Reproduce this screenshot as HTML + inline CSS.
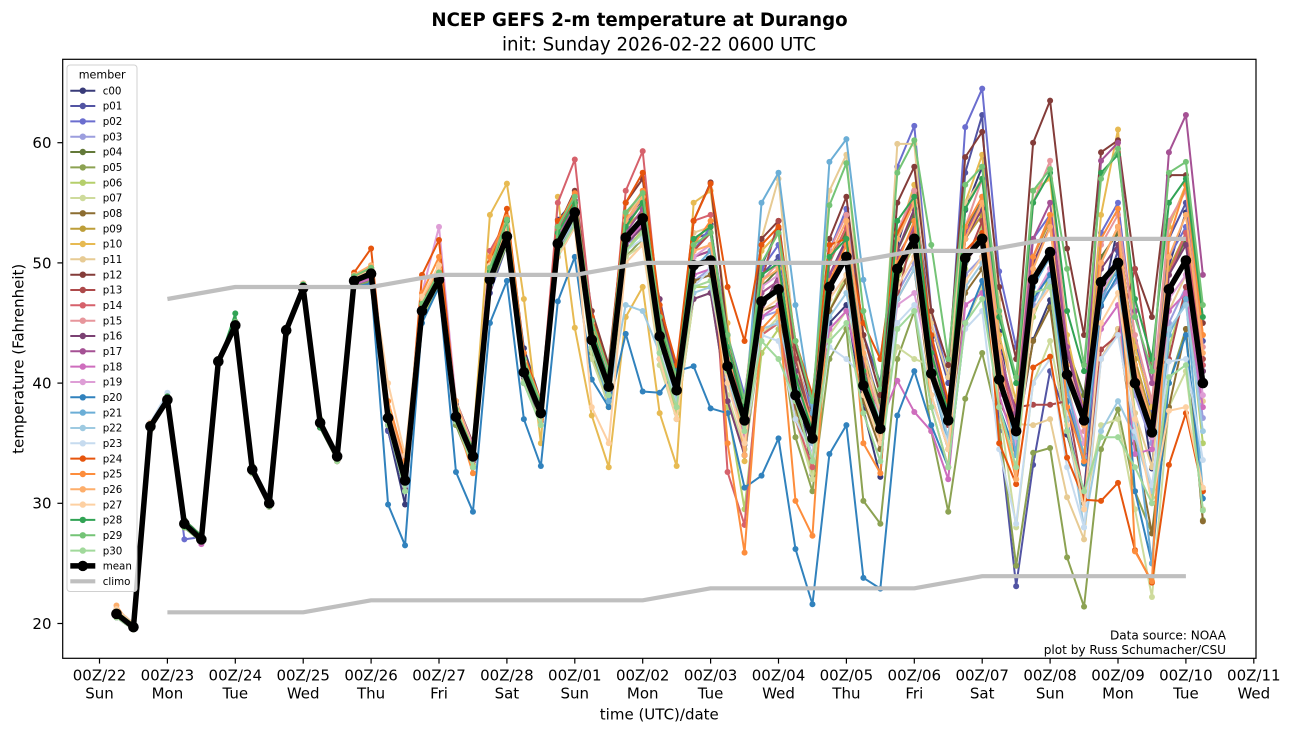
<!DOCTYPE html>
<html>
<head>
<meta charset="utf-8">
<style>
html,body{margin:0;padding:0;background:#fff;}
svg{display:block;font-family:"DejaVu Sans","Liberation Sans",sans-serif;}
.tk{font-size:15px;fill:#000;}
.lg text{font-size:10.3px;fill:#000;}
.lg line{stroke-width:2;}
.m polyline{fill:none;stroke-width:2;stroke-linejoin:round;vector-effect:non-scaling-stroke;}
</style>
</head>
<body>
<svg xmlns="http://www.w3.org/2000/svg" width="1290" height="733" viewBox="0 0 1290 733">
<defs>
<clipPath id="clip"><rect x="62.7" y="59.3" width="1193.3" height="599"/></clipPath>
<marker id="k0" markerUnits="userSpaceOnUse" markerWidth="1" markerHeight="1" overflow="visible"><ellipse rx="0.177" ry="0.25" fill="#393b79"/></marker>
<marker id="k1" markerUnits="userSpaceOnUse" markerWidth="1" markerHeight="1" overflow="visible"><ellipse rx="0.177" ry="0.25" fill="#5254a3"/></marker>
<marker id="k2" markerUnits="userSpaceOnUse" markerWidth="1" markerHeight="1" overflow="visible"><ellipse rx="0.177" ry="0.25" fill="#6b6ecf"/></marker>
<marker id="k3" markerUnits="userSpaceOnUse" markerWidth="1" markerHeight="1" overflow="visible"><ellipse rx="0.177" ry="0.25" fill="#9c9ede"/></marker>
<marker id="k4" markerUnits="userSpaceOnUse" markerWidth="1" markerHeight="1" overflow="visible"><ellipse rx="0.177" ry="0.25" fill="#637939"/></marker>
<marker id="k5" markerUnits="userSpaceOnUse" markerWidth="1" markerHeight="1" overflow="visible"><ellipse rx="0.177" ry="0.25" fill="#8ca252"/></marker>
<marker id="k6" markerUnits="userSpaceOnUse" markerWidth="1" markerHeight="1" overflow="visible"><ellipse rx="0.177" ry="0.25" fill="#b5cf6b"/></marker>
<marker id="k7" markerUnits="userSpaceOnUse" markerWidth="1" markerHeight="1" overflow="visible"><ellipse rx="0.177" ry="0.25" fill="#cedb9c"/></marker>
<marker id="k8" markerUnits="userSpaceOnUse" markerWidth="1" markerHeight="1" overflow="visible"><ellipse rx="0.177" ry="0.25" fill="#8c6d31"/></marker>
<marker id="k9" markerUnits="userSpaceOnUse" markerWidth="1" markerHeight="1" overflow="visible"><ellipse rx="0.177" ry="0.25" fill="#bd9e39"/></marker>
<marker id="k10" markerUnits="userSpaceOnUse" markerWidth="1" markerHeight="1" overflow="visible"><ellipse rx="0.177" ry="0.25" fill="#e7ba52"/></marker>
<marker id="k11" markerUnits="userSpaceOnUse" markerWidth="1" markerHeight="1" overflow="visible"><ellipse rx="0.177" ry="0.25" fill="#e7cb94"/></marker>
<marker id="k12" markerUnits="userSpaceOnUse" markerWidth="1" markerHeight="1" overflow="visible"><ellipse rx="0.177" ry="0.25" fill="#843c39"/></marker>
<marker id="k13" markerUnits="userSpaceOnUse" markerWidth="1" markerHeight="1" overflow="visible"><ellipse rx="0.177" ry="0.25" fill="#ad494a"/></marker>
<marker id="k14" markerUnits="userSpaceOnUse" markerWidth="1" markerHeight="1" overflow="visible"><ellipse rx="0.177" ry="0.25" fill="#d6616b"/></marker>
<marker id="k15" markerUnits="userSpaceOnUse" markerWidth="1" markerHeight="1" overflow="visible"><ellipse rx="0.177" ry="0.25" fill="#e7969c"/></marker>
<marker id="k16" markerUnits="userSpaceOnUse" markerWidth="1" markerHeight="1" overflow="visible"><ellipse rx="0.177" ry="0.25" fill="#7b4173"/></marker>
<marker id="k17" markerUnits="userSpaceOnUse" markerWidth="1" markerHeight="1" overflow="visible"><ellipse rx="0.177" ry="0.25" fill="#a55194"/></marker>
<marker id="k18" markerUnits="userSpaceOnUse" markerWidth="1" markerHeight="1" overflow="visible"><ellipse rx="0.177" ry="0.25" fill="#ce6dbd"/></marker>
<marker id="k19" markerUnits="userSpaceOnUse" markerWidth="1" markerHeight="1" overflow="visible"><ellipse rx="0.177" ry="0.25" fill="#de9ed6"/></marker>
<marker id="k20" markerUnits="userSpaceOnUse" markerWidth="1" markerHeight="1" overflow="visible"><ellipse rx="0.177" ry="0.25" fill="#3182bd"/></marker>
<marker id="k21" markerUnits="userSpaceOnUse" markerWidth="1" markerHeight="1" overflow="visible"><ellipse rx="0.177" ry="0.25" fill="#6baed6"/></marker>
<marker id="k22" markerUnits="userSpaceOnUse" markerWidth="1" markerHeight="1" overflow="visible"><ellipse rx="0.177" ry="0.25" fill="#9ecae1"/></marker>
<marker id="k23" markerUnits="userSpaceOnUse" markerWidth="1" markerHeight="1" overflow="visible"><ellipse rx="0.177" ry="0.25" fill="#c6dbef"/></marker>
<marker id="k24" markerUnits="userSpaceOnUse" markerWidth="1" markerHeight="1" overflow="visible"><ellipse rx="0.177" ry="0.25" fill="#e6550d"/></marker>
<marker id="k25" markerUnits="userSpaceOnUse" markerWidth="1" markerHeight="1" overflow="visible"><ellipse rx="0.177" ry="0.25" fill="#fd8d3c"/></marker>
<marker id="k26" markerUnits="userSpaceOnUse" markerWidth="1" markerHeight="1" overflow="visible"><ellipse rx="0.177" ry="0.25" fill="#fdae6b"/></marker>
<marker id="k27" markerUnits="userSpaceOnUse" markerWidth="1" markerHeight="1" overflow="visible"><ellipse rx="0.177" ry="0.25" fill="#fdd0a2"/></marker>
<marker id="k28" markerUnits="userSpaceOnUse" markerWidth="1" markerHeight="1" overflow="visible"><ellipse rx="0.177" ry="0.25" fill="#31a354"/></marker>
<marker id="k29" markerUnits="userSpaceOnUse" markerWidth="1" markerHeight="1" overflow="visible"><ellipse rx="0.177" ry="0.25" fill="#74c476"/></marker>
<marker id="k30" markerUnits="userSpaceOnUse" markerWidth="1" markerHeight="1" overflow="visible"><ellipse rx="0.177" ry="0.25" fill="#a1d99b"/></marker>
<marker id="kmean" markerUnits="userSpaceOnUse" markerWidth="1" markerHeight="1" overflow="visible"><ellipse rx="0.312" ry="0.441" fill="#000"/></marker>
</defs>
<rect x="0" y="0" width="1290" height="733" fill="#fff"/>

<text x="639.5" y="26" text-anchor="middle" font-size="18.2" font-weight="bold">NCEP GEFS 2-m temperature at Durango</text>
<text x="659" y="50.7" text-anchor="middle" font-size="18.2">init: Sunday 2026-02-22 0600 UTC</text>

<g clip-path="url(#clip)">
<g class="m" transform="matrix(16.975,0,0,-12.02,99.5,863.9)">
<polyline stroke="#393b79" marker-start="url(#k0)" marker-mid="url(#k0)" marker-end="url(#k0)" points="1,20.6 2,19.6 3,36.2 4,38.9 5,28.6 6,27.3 7,41.6 8,44.5 9,32.6 10,30.3 11,44.1 12,48.2 13,36.3 14,33.6 15,49.0 16,49.4 17,36.1 18,29.9 19,47.0 20,49.1 21,38.2 22,34.4 23,49.6 24,53.7 25,42.9 26,38.5 27,53.6 28,55.2 29,44.6 30,38.7 31,53.1 32,55.2 33,45.9 34,40.4 35,51.8 36,53.2 37,42.4 38,34.9 39,49.8 40,52.8 41,41.0 42,32.4 43,45.0 44,46.5 45,37.8 46,32.2 47,51.5 48,56.0 49,43.8 50,37.9 51,54.4 52,58.0 53,44.3 54,35.0 55,43.6 56,46.9 57,35.7 58,30.9 59,46.4 60,53.0 61,42.0 62,32.9 63,49.8 64,54.2 65,41.0"/>
<polyline stroke="#5254a3" marker-start="url(#k1)" marker-mid="url(#k1)" marker-end="url(#k1)" points="1,21.0 2,19.9 3,36.6 4,38.3 5,28.0 6,26.8 7,42.0 8,45.1 9,33.1 10,29.8 11,44.6 12,47.6 13,37.0 14,34.2 15,48.0 16,48.7 17,36.0 18,31.0 19,45.5 20,48.0 21,36.5 22,33.0 23,47.5 24,51.5 25,40.0 26,36.8 27,50.5 28,53.5 29,44.5 30,40.5 31,53.0 32,55.0 33,45.0 34,41.0 35,52.0 36,52.5 37,42.5 38,37.5 39,49.0 40,50.5 41,40.0 42,35.0 43,50.0 44,53.0 45,44.0 46,40.0 47,52.5 48,55.5 49,45.0 50,40.0 51,57.5 52,62.3 53,36.0 54,23.1 55,33.2 56,41.0 57,37.0 58,30.0 59,47.0 60,51.0 61,41.0 62,37.0 63,52.0 64,55.0 65,43.5"/>
<polyline stroke="#6b6ecf" marker-start="url(#k2)" marker-mid="url(#k2)" marker-end="url(#k2)" points="1,20.5 2,19.5 3,36.1 4,38.7 5,27.0 6,27.2 7,41.9 8,44.6 9,32.5 10,29.7 11,44.2 12,48.0 13,36.5 14,33.5 15,48.8 16,49.5 17,36.5 18,31.5 19,46.5 20,48.3 21,37.5 22,34.5 23,49.0 24,52.5 25,41.5 26,38.5 27,52.0 28,55.0 29,45.0 30,40.0 31,54.0 32,55.5 33,44.5 34,40.5 35,51.0 36,53.0 37,44.0 38,39.0 39,49.5 40,51.5 41,42.0 42,37.5 43,51.0 44,54.5 45,43.0 46,38.0 47,58.0 48,61.4 49,46.0 50,40.5 51,61.3 52,64.5 53,49.3 54,43.0 55,52.0 56,54.0 57,42.5 58,38.0 59,52.5 60,55.0 61,43.5 62,37.5 63,50.5 64,53.0 65,41.5"/>
<polyline stroke="#9c9ede" marker-start="url(#k3)" marker-mid="url(#k3)" marker-end="url(#k3)" points="1,21.2 2,20.0 3,36.7 4,38.5 5,28.1 6,26.9 7,41.7 8,44.9 9,33.0 10,30.2 11,44.5 12,48.3 13,36.9 14,34.1 15,48.2 16,48.9 17,37.8 18,32.5 19,46.2 20,48.8 21,37.9 22,34.2 23,48.0 24,51.8 25,41.5 26,38.0 27,51.0 28,53.5 29,42.5 30,38.5 31,51.5 32,52.5 33,42.0 34,38.0 35,48.5 36,49.5 37,40.0 38,37.5 39,45.5 40,46.0 41,38.0 42,34.0 43,47.0 44,49.0 45,40.0 46,37.0 47,47.5 48,50.0 49,42.0 50,38.5 51,49.0 52,50.5 53,41.5 54,37.5 55,46.5 56,49.5 57,42.5 58,38.5 59,47.0 60,48.5 61,39.0 62,35.0 63,45.0 64,48.0 65,37.1"/>
<polyline stroke="#637939" marker-start="url(#k4)" marker-mid="url(#k4)" marker-end="url(#k4)" points="1,20.6 2,19.6 3,36.2 4,38.9 5,28.6 6,27.3 7,41.6 8,44.5 9,32.6 10,30.3 11,44.1 12,48.2 13,36.3 14,33.6 15,48.9 16,49.6 17,37.6 18,32.3 19,46.5 20,49.0 21,37.0 22,33.5 23,49.2 24,53.0 25,41.0 26,37.0 27,52.5 28,55.0 29,44.0 30,40.5 31,52.5 32,54.5 33,44.5 34,40.0 35,50.5 36,51.0 37,42.5 38,38.0 39,48.0 40,49.5 41,41.0 42,37.0 43,50.5 44,52.5 45,42.0 46,38.5 47,51.0 48,54.0 49,43.5 50,38.0 51,52.5 52,55.5 53,42.0 54,37.0 55,50.0 56,53.0 57,43.0 58,39.0 59,50.5 60,52.5 61,41.5 62,36.5 63,49.0 64,52.0 65,41.0"/>
<polyline stroke="#8ca252" marker-start="url(#k5)" marker-mid="url(#k5)" marker-end="url(#k5)" points="1,21.0 2,19.9 3,36.6 4,38.3 5,28.0 6,26.8 7,42.0 8,45.1 9,33.1 10,29.8 11,44.6 12,47.6 13,37.0 14,34.2 15,48.0 16,48.5 17,36.5 18,31.0 19,45.5 20,48.0 21,36.5 22,33.0 23,48.0 24,51.5 25,40.0 26,36.5 27,50.5 28,53.0 29,42.5 30,38.0 31,50.5 32,52.0 33,42.0 34,37.0 35,47.0 36,47.5 37,38.5 38,34.0 39,44.0 40,45.0 41,35.5 42,31.0 43,42.0 44,44.5 45,30.2 46,28.3 47,42.0 48,46.0 49,36.0 50,29.3 51,38.7 52,42.5 53,36.4 54,24.8 55,34.2 56,34.6 57,25.5 58,21.4 59,34.5 60,37.8 61,31.0 62,27.5 63,40.0 64,44.5 65,28.6"/>
<polyline stroke="#b5cf6b" marker-start="url(#k6)" marker-mid="url(#k6)" marker-end="url(#k6)" points="1,20.5 2,19.5 3,36.1 4,38.7 5,28.4 6,27.1 7,41.9 8,44.6 9,32.5 10,29.7 11,44.2 12,48.0 13,36.5 14,33.5 15,48.3 16,49.0 17,36.8 18,31.5 19,45.5 20,48.3 21,36.8 22,33.2 23,48.5 24,52.0 25,40.5 26,37.0 27,51.0 28,53.8 29,42.8 30,38.5 31,51.0 32,52.8 33,42.5 34,37.5 35,48.0 36,48.0 37,38.0 38,29.5 39,42.5 40,44.5 41,37.5 42,32.5 43,46.0 44,49.0 45,40.5 46,35.0 47,48.5 48,51.5 49,41.5 50,36.5 51,49.5 52,53.0 53,41.0 54,35.5 55,45.5 56,49.0 57,40.0 58,34.0 59,47.5 60,49.5 61,37.5 62,30.5 63,43.0 64,47.5 65,35.0"/>
<polyline stroke="#cedb9c" marker-start="url(#k7)" marker-mid="url(#k7)" marker-end="url(#k7)" points="1,21.2 2,20.0 3,36.7 4,38.5 5,28.1 6,26.9 7,41.7 8,44.9 9,33.0 10,30.2 11,44.5 12,48.3 13,36.9 14,34.1 15,48.6 16,49.3 17,37.5 18,32.0 19,46.3 20,48.9 21,37.0 22,33.5 23,48.3 24,51.7 25,40.3 26,37.2 27,50.8 28,53.2 29,42.0 30,38.2 31,50.5 32,51.5 33,41.5 34,37.0 35,47.0 36,47.5 37,39.0 38,34.5 39,44.0 40,45.5 41,37.0 42,32.0 43,44.0 44,46.0 45,41.0 46,37.5 47,43.0 48,42.0 49,41.5 50,37.5 51,45.0 52,48.0 53,38.0 54,28.0 55,40.0 56,43.5 57,36.0 58,29.5 59,36.5 60,37.0 61,29.5 62,22.2 63,38.0 64,41.0 65,29.5"/>
<polyline stroke="#8c6d31" marker-start="url(#k8)" marker-mid="url(#k8)" marker-end="url(#k8)" points="1,20.6 2,19.6 3,36.2 4,38.9 5,28.6 6,27.3 7,41.6 8,44.5 9,32.6 10,30.3 11,44.1 12,48.2 13,36.3 14,33.6 15,48.7 16,49.2 17,37.3 18,32.2 19,46.4 20,49.0 21,37.5 22,34.0 23,48.8 24,52.5 25,41.2 26,37.8 27,51.8 28,54.5 29,43.8 30,39.5 31,52.0 32,53.5 33,43.5 34,38.5 35,48.5 36,49.0 37,41.0 38,35.5 39,46.0 40,46.5 41,38.0 42,33.5 43,46.0 44,48.5 45,38.5 46,34.5 47,47.0 48,49.5 49,39.0 50,34.5 51,47.5 52,49.5 53,38.5 54,35.5 55,43.5 56,46.3 57,36.0 58,30.0 59,42.0 60,44.5 61,35.0 62,27.5 63,38.0 64,44.5 65,28.5"/>
<polyline stroke="#bd9e39" marker-start="url(#k9)" marker-mid="url(#k9)" marker-end="url(#k9)" points="1,21.0 2,19.9 3,36.6 4,38.3 5,28.0 6,26.8 7,42.0 8,45.1 9,33.1 10,29.8 11,44.6 12,47.6 13,37.0 14,34.2 15,48.4 16,49.0 17,37.0 18,31.8 19,45.8 20,48.4 21,37.4 22,34.0 23,48.9 24,52.6 25,41.0 26,37.3 27,52.0 28,54.5 29,44.0 30,40.0 31,53.0 32,54.3 33,44.8 34,40.2 35,50.5 36,51.0 37,42.0 38,37.2 39,47.5 40,48.5 41,39.5 42,35.8 43,49.0 44,51.5 45,40.0 46,36.5 47,50.5 48,53.0 49,41.5 50,37.0 51,52.0 52,54.0 53,42.0 54,37.5 55,50.5 56,53.5 57,42.5 58,38.0 59,50.0 60,53.0 61,42.0 62,37.0 63,49.5 64,52.5 65,42.0"/>
<polyline stroke="#e7ba52" marker-start="url(#k10)" marker-mid="url(#k10)" marker-end="url(#k10)" points="1,20.5 2,19.5 3,36.1 4,38.7 5,28.4 6,27.1 7,41.9 8,44.6 9,32.5 10,29.7 11,44.2 12,48.0 13,36.5 14,33.5 15,48.8 16,49.5 17,38.0 18,33.0 19,47.0 20,49.8 21,38.5 22,35.0 23,54.0 24,56.6 25,47.0 26,35.0 27,55.5 28,44.6 29,37.3 30,33.0 31,45.5 32,48.0 33,37.5 34,33.1 35,55.0 36,56.0 37,45.0 38,33.5 39,51.0 40,52.5 41,40.5 42,36.0 43,50.0 44,53.0 45,41.0 46,35.5 47,52.0 48,56.5 49,43.0 50,38.0 51,55.0 52,59.0 53,44.0 54,38.5 55,56.0 56,57.0 57,44.0 58,37.5 59,54.0 60,61.1 61,43.0 62,38.0 63,53.0 64,56.5 65,44.0"/>
<polyline stroke="#e7cb94" marker-start="url(#k11)" marker-mid="url(#k11)" marker-end="url(#k11)" points="1,21.2 2,20.0 3,36.7 4,38.5 5,28.1 6,26.9 7,41.7 8,44.9 9,33.0 10,30.2 11,44.5 12,48.3 13,36.9 14,34.1 15,48.9 16,49.8 17,38.5 18,33.0 19,47.2 20,49.5 21,38.0 22,34.8 23,49.5 24,53.0 25,42.0 26,38.5 27,52.5 28,55.0 29,45.0 30,41.0 31,54.0 32,55.5 33,44.5 34,40.0 35,52.5 36,53.0 37,43.5 38,38.5 39,52.0 40,57.0 41,42.5 42,36.5 43,56.0 44,59.0 45,43.0 46,37.5 47,59.9 48,59.9 49,45.0 50,40.5 51,55.0 52,57.0 53,47.0 54,36.6 55,36.5 56,37.0 57,30.5 58,27.0 59,42.0 60,44.5 61,37.5 62,33.0 63,46.0 64,49.0 65,38.5"/>
<polyline stroke="#843c39" marker-start="url(#k12)" marker-mid="url(#k12)" marker-end="url(#k12)" points="1,20.6 2,19.6 3,36.2 4,38.9 5,28.6 6,27.3 7,41.6 8,44.5 9,32.6 10,30.3 11,44.1 12,48.2 13,36.3 14,33.6 15,49.0 16,49.6 17,37.8 18,32.5 19,46.8 20,49.5 21,38.5 22,35.0 23,50.0 24,53.5 25,42.0 26,38.5 27,53.0 28,56.0 29,46.0 30,41.5 31,55.0 32,57.0 33,46.0 34,41.0 35,53.5 36,56.7 37,44.0 38,38.0 39,52.0 40,53.5 41,43.0 42,38.0 43,52.0 44,55.5 45,44.0 46,39.0 47,55.0 48,58.0 49,46.0 50,41.5 51,58.8 52,60.9 53,48.0 54,42.0 55,60.0 56,63.5 57,51.2 58,44.0 59,59.2 60,60.2 61,49.5 62,45.5 63,57.3 64,57.3 65,45.0"/>
<polyline stroke="#ad494a" marker-start="url(#k13)" marker-mid="url(#k13)" marker-end="url(#k13)" points="1,21.0 2,19.9 3,36.6 4,38.3 5,28.0 6,26.8 7,42.0 8,45.1 9,33.1 10,29.8 11,44.6 12,47.6 13,37.0 14,34.2 15,48.7 16,49.4 17,37.5 18,32.0 19,46.5 20,49.0 21,38.0 22,34.5 23,49.5 24,53.0 25,41.5 26,38.0 27,52.5 28,55.5 29,44.5 30,40.5 31,53.5 32,55.5 33,45.0 34,40.0 35,51.0 36,52.5 37,43.0 38,37.5 39,48.5 40,53.5 41,42.0 42,36.5 43,47.5 44,52.0 45,42.0 46,35.0 47,47.0 48,53.0 49,43.5 50,36.5 51,50.0 52,53.5 53,40.9 54,38.0 55,38.2 56,38.2 57,38.5 58,30.5 59,42.8 60,44.0 61,49.5 62,41.0 63,42.0 64,48.0 65,42.0"/>
<polyline stroke="#d6616b" marker-start="url(#k14)" marker-mid="url(#k14)" marker-end="url(#k14)" points="1,20.5 2,19.5 3,36.1 4,38.7 5,28.4 6,27.1 7,41.9 8,44.6 9,32.5 10,29.7 11,44.2 12,48.0 13,36.5 14,33.5 15,48.5 16,49.3 17,37.0 18,31.5 19,46.5 20,49.3 21,38.0 22,34.2 23,51.0 24,53.5 25,42.0 26,38.2 27,55.0 28,58.6 29,45.5 30,40.5 31,56.0 32,59.3 33,45.5 34,40.0 35,53.5 36,54.0 37,32.6 38,28.2 39,44.0 40,45.0 41,37.0 42,33.0 43,50.0 44,53.0 45,41.0 46,35.5 47,52.5 48,55.5 49,40.5 50,35.0 51,52.0 52,55.0 53,42.0 54,36.5 55,50.5 56,54.0 57,41.5 58,36.5 59,50.0 60,53.0 61,41.0 62,35.5 63,49.0 64,52.5 65,41.5"/>
<polyline stroke="#e7969c" marker-start="url(#k15)" marker-mid="url(#k15)" marker-end="url(#k15)" points="1,21.2 2,20.0 3,36.7 4,38.5 5,28.1 6,26.9 7,41.7 8,44.9 9,33.0 10,30.2 11,44.5 12,48.3 13,36.9 14,34.1 15,48.3 16,48.9 17,37.2 18,32.0 19,46.2 20,48.7 21,37.5 22,34.0 23,49.0 24,52.5 25,41.5 26,37.8 27,52.5 28,55.0 29,44.5 30,40.0 31,53.5 32,55.0 33,44.0 34,39.0 35,50.5 36,51.0 37,41.0 38,36.0 39,48.5 40,50.0 41,40.0 42,35.0 43,51.0 44,54.0 45,42.0 46,37.0 47,52.5 48,56.0 49,43.0 50,38.0 51,53.0 52,57.0 53,43.0 54,37.0 55,55.0 56,58.5 57,43.0 58,36.0 59,51.5 60,54.0 61,44.0 62,38.5 63,53.5 64,56.0 65,43.0"/>
<polyline stroke="#7b4173" marker-start="url(#k16)" marker-mid="url(#k16)" marker-end="url(#k16)" points="1,20.6 2,19.6 3,36.2 4,38.9 5,28.6 6,27.3 7,41.6 8,44.5 9,32.6 10,30.3 11,44.1 12,48.2 13,36.3 14,33.6 15,48.4 16,48.8 17,36.5 18,31.2 19,45.8 20,48.2 21,36.8 22,33.5 23,48.0 24,51.8 25,40.5 26,37.0 27,51.0 28,53.8 29,43.0 30,39.0 31,51.5 32,53.0 33,47.0 34,40.5 35,47.0 36,47.5 37,38.5 38,34.0 39,46.0 40,49.0 41,41.0 42,36.0 43,49.0 44,52.0 45,41.5 46,36.5 47,51.0 48,54.5 49,43.5 50,38.0 51,52.0 52,54.5 53,42.5 54,37.5 55,50.0 56,53.0 57,42.5 58,37.5 59,49.5 60,51.5 61,41.5 62,36.5 63,49.0 64,51.5 65,41.0"/>
<polyline stroke="#a55194" marker-start="url(#k17)" marker-mid="url(#k17)" marker-end="url(#k17)" points="1,21.0 2,19.9 3,36.6 4,38.3 5,28.0 6,26.8 7,42.0 8,45.1 9,33.1 10,29.8 11,44.6 12,47.6 13,37.0 14,34.2 15,48.6 16,49.2 17,37.4 18,32.2 19,46.3 20,49.0 21,37.4 22,34.1 23,49.0 24,52.8 25,41.3 26,37.6 27,52.0 28,54.8 29,44.0 30,40.0 31,52.5 32,54.5 33,44.2 34,39.8 35,50.5 36,51.0 37,42.0 38,37.0 39,47.5 40,48.5 41,39.5 42,35.5 43,49.0 44,51.5 45,40.5 46,36.5 47,50.5 48,53.0 49,41.5 50,37.0 51,52.5 52,55.0 53,42.5 54,37.5 55,52.0 56,55.0 57,43.0 58,37.5 59,58.5 60,60.0 61,46.0 62,40.0 63,59.2 64,62.3 65,49.0"/>
<polyline stroke="#ce6dbd" marker-start="url(#k18)" marker-mid="url(#k18)" marker-end="url(#k18)" points="1,20.5 2,19.5 3,36.1 4,38.7 5,28.4 6,26.6 7,41.9 8,44.6 9,32.5 10,29.7 11,44.2 12,48.0 13,36.5 14,33.5 15,48.2 16,48.7 17,36.8 18,31.6 19,45.9 20,48.3 21,37.0 22,33.6 23,48.5 24,52.0 25,40.8 26,37.3 27,51.2 28,53.8 29,43.2 30,39.2 31,51.8 32,53.2 33,43.5 34,39.0 35,49.0 36,49.5 37,40.5 38,35.5 39,45.5 40,46.5 41,39.5 42,36.0 43,44.5 44,46.0 45,39.5 46,36.7 47,40.2 48,37.6 49,36.0 50,32.0 51,46.5 52,47.5 53,39.0 54,34.5 55,46.0 56,48.0 57,38.5 58,34.0 59,44.5 60,46.5 61,34.1 62,34.5 63,46.0 64,47.5 65,38.0"/>
<polyline stroke="#de9ed6" marker-start="url(#k19)" marker-mid="url(#k19)" marker-end="url(#k19)" points="1,21.2 2,20.0 3,36.7 4,38.5 5,28.1 6,26.9 7,41.7 8,44.9 9,33.0 10,30.2 11,44.5 12,48.3 13,36.9 14,34.1 15,48.8 16,49.4 17,37.8 18,32.8 19,47.5 20,53.0 21,38.5 22,34.8 23,50.5 24,53.0 25,42.0 26,38.0 27,53.0 28,55.5 29,44.5 30,40.5 31,53.0 32,55.0 33,45.0 34,40.0 35,50.5 36,51.5 37,42.0 38,37.0 39,48.0 40,49.0 41,40.0 42,35.5 43,48.0 44,50.5 45,40.0 46,36.0 47,46.5 48,47.5 49,41.0 50,37.0 51,50.0 52,52.0 53,40.0 54,35.0 55,47.0 56,49.5 57,39.5 58,35.0 59,47.5 60,50.0 61,40.0 62,35.5 63,47.0 64,49.0 65,39.0"/>
<polyline stroke="#3182bd" marker-start="url(#k20)" marker-mid="url(#k20)" marker-end="url(#k20)" points="1,20.6 2,19.6 3,36.2 4,38.9 5,28.6 6,27.3 7,41.6 8,44.5 9,32.6 10,30.3 11,44.1 12,48.2 13,36.3 14,33.6 15,48.0 16,48.3 17,29.9 18,26.5 19,45.0 20,48.0 21,32.6 22,29.3 23,45.0 24,48.5 25,37.0 26,33.1 27,46.8 28,50.5 29,40.3 30,38.0 31,44.1 32,39.3 33,39.2 34,41.0 35,41.4 36,37.9 37,37.5 38,31.3 39,32.3 40,35.4 41,26.2 42,21.6 43,34.1 44,36.5 45,23.8 46,22.9 47,37.3 48,41.0 49,36.5 50,33.0 51,45.0 52,48.5 53,38.0 54,34.0 55,47.0 56,49.0 57,38.5 58,33.3 59,46.5 60,49.0 61,31.0 62,25.0 63,40.0 64,44.0 65,30.4"/>
<polyline stroke="#6baed6" marker-start="url(#k21)" marker-mid="url(#k21)" marker-end="url(#k21)" points="1,21.0 2,19.9 3,36.6 4,38.3 5,28.0 6,26.8 7,42.0 8,45.1 9,33.1 10,29.8 11,44.6 12,47.6 13,37.0 14,34.2 15,48.9 16,49.5 17,37.0 18,31.0 19,46.5 20,49.0 21,37.8 22,33.8 23,49.0 24,52.5 25,42.0 26,37.0 27,52.5 28,55.0 29,43.0 30,38.5 31,52.0 32,53.5 33,43.0 34,38.5 35,49.5 36,51.0 37,41.0 38,37.0 39,55.0 40,57.5 41,46.5 42,37.5 43,58.4 44,60.3 45,48.6 46,42.0 47,52.0 48,55.0 49,40.5 50,35.0 51,50.0 52,52.5 53,41.5 54,34.0 55,48.0 56,50.5 57,39.5 58,33.8 59,47.0 60,49.5 61,36.5 62,25.0 63,44.0 64,47.0 65,31.0"/>
<polyline stroke="#9ecae1" marker-start="url(#k22)" marker-mid="url(#k22)" marker-end="url(#k22)" points="1,20.5 2,19.5 3,36.1 4,38.7 5,28.4 6,27.1 7,41.9 8,44.6 9,32.5 10,29.7 11,44.2 12,48.0 13,36.5 14,33.5 15,48.4 16,49.0 17,36.8 18,31.5 19,45.8 20,48.4 21,37.0 22,33.7 23,48.3 24,51.9 25,40.6 26,37.1 27,51.2 28,53.6 29,43.0 30,39.0 31,46.5 32,46.0 33,42.5 34,38.5 35,47.5 36,48.0 37,40.5 38,36.0 39,44.5 40,45.0 41,39.5 42,35.0 43,45.5 44,47.5 45,40.0 46,35.5 47,47.0 48,49.5 49,40.5 50,35.5 51,48.0 52,50.0 53,40.5 54,35.5 55,46.0 56,48.5 57,37.0 58,28.0 59,36.0 60,38.5 61,35.5 62,31.0 63,44.5 64,46.5 65,36.0"/>
<polyline stroke="#c6dbef" marker-start="url(#k23)" marker-mid="url(#k23)" marker-end="url(#k23)" points="1,21.2 2,20.0 3,36.7 4,39.2 5,28.1 6,26.9 7,41.7 8,44.9 9,33.0 10,30.2 11,44.5 12,48.3 13,36.9 14,34.1 15,48.5 16,49.2 17,37.0 18,32.0 19,46.0 20,48.5 21,37.3 22,34.0 23,48.6 24,52.3 25,40.8 26,37.4 27,51.4 28,54.0 29,43.4 30,39.5 31,51.0 32,52.0 33,43.0 34,38.0 35,48.0 36,49.5 37,40.0 38,35.0 39,44.0 40,43.5 41,37.0 42,34.0 43,43.0 44,42.0 45,40.5 46,37.0 47,45.0 48,46.5 49,38.5 50,35.0 51,44.5 52,46.0 53,34.5 54,28.3 55,40.0 56,42.0 57,33.0 58,28.0 59,42.0 60,44.0 61,36.0 62,31.5 63,41.8 64,42.0 65,33.6"/>
<polyline stroke="#e6550d" marker-start="url(#k24)" marker-mid="url(#k24)" marker-end="url(#k24)" points="1,20.6 2,19.6 3,36.2 4,38.9 5,28.6 6,27.3 7,41.6 8,44.5 9,32.6 10,30.3 11,44.1 12,48.2 13,36.3 14,33.6 15,49.2 16,51.2 17,37.5 18,32.0 19,49.0 20,51.9 21,38.0 22,34.0 23,50.0 24,54.5 25,42.5 26,38.5 27,53.5 28,55.0 29,45.5 30,41.0 31,55.0 32,57.5 33,46.5 34,41.5 35,53.5 36,56.6 37,48.0 38,43.5 39,51.5 40,53.0 41,43.5 42,39.0 43,51.5 44,52.0 45,45.0 46,42.0 47,52.5 48,55.0 49,44.0 50,38.5 51,51.0 52,52.5 53,35.0 54,31.6 55,41.3 56,42.2 57,33.8 58,30.3 59,30.2 60,31.7 61,26.1 62,23.4 63,33.2 64,37.5 65,31.0"/>
<polyline stroke="#fd8d3c" marker-start="url(#k25)" marker-mid="url(#k25)" marker-end="url(#k25)" points="1,21.0 2,19.9 3,36.6 4,38.3 5,28.0 6,26.8 7,42.0 8,45.1 9,33.1 10,29.8 11,44.6 12,47.6 13,37.0 14,34.2 15,48.8 16,49.6 17,38.5 18,33.5 19,47.5 20,50.5 21,37.0 22,32.5 23,50.5 24,53.8 25,42.5 26,37.0 27,53.0 28,55.8 29,45.0 30,39.5 31,54.0 32,56.0 33,45.0 34,40.0 35,51.5 36,53.5 37,35.0 38,25.9 39,44.5 40,46.0 41,30.2 42,27.3 43,48.5 44,51.5 45,35.0 46,32.5 47,50.0 48,53.5 49,38.0 50,33.0 51,53.0 52,55.5 53,38.0 54,32.0 55,50.5 56,54.0 57,38.0 58,33.5 59,52.0 60,54.5 61,26.0 62,23.5 63,52.0 64,56.5 65,44.0"/>
<polyline stroke="#fdae6b" marker-start="url(#k26)" marker-mid="url(#k26)" marker-end="url(#k26)" points="1,21.5 2,19.5 3,36.1 4,38.7 5,28.4 6,27.1 7,41.9 8,44.6 9,32.5 10,29.7 11,44.2 12,48.0 13,36.5 14,33.5 15,49.0 16,49.8 17,38.0 18,32.5 19,47.0 20,49.5 21,38.5 22,34.5 23,49.5 24,53.0 25,42.0 26,38.5 27,52.5 28,55.0 29,45.0 30,41.0 31,53.5 32,55.5 33,45.5 34,40.0 35,51.0 36,51.5 37,43.5 38,34.0 39,48.5 40,49.5 41,40.5 42,36.5 43,50.5 44,53.5 45,42.5 46,35.5 47,52.0 48,55.0 49,42.5 50,37.5 51,52.0 52,55.0 53,43.0 54,32.0 55,49.5 56,53.0 57,41.5 58,36.5 59,50.0 60,53.0 61,41.5 62,36.5 63,50.5 64,54.0 65,42.5"/>
<polyline stroke="#fdd0a2" marker-start="url(#k27)" marker-mid="url(#k27)" marker-end="url(#k27)" points="1,21.2 2,20.0 3,36.7 4,38.5 5,28.1 6,26.9 7,41.7 8,44.9 9,33.0 10,30.2 11,44.5 12,48.3 13,36.9 14,34.1 15,48.7 16,49.4 17,40.0 18,34.0 19,47.2 20,49.8 21,38.0 22,34.5 23,49.8 24,53.2 25,41.8 26,36.5 27,50.5 28,53.0 29,38.0 30,35.0 31,50.0 32,51.5 33,42.0 34,37.0 35,48.0 36,48.5 37,40.0 38,35.0 39,46.0 40,47.0 41,38.5 42,33.5 43,47.0 44,49.0 45,39.0 46,35.0 47,48.0 48,50.5 49,39.0 50,34.5 51,48.5 52,50.5 53,38.0 54,33.0 55,46.0 56,48.0 57,36.5 58,29.5 59,45.0 60,47.5 61,37.0 62,30.0 63,37.7 64,38.0 65,31.3"/>
<polyline stroke="#31a354" marker-start="url(#k28)" marker-mid="url(#k28)" marker-end="url(#k28)" points="1,20.6 2,19.6 3,36.2 4,38.9 5,28.6 6,27.3 7,41.6 8,45.8 9,32.6 10,30.3 11,44.1 12,48.2 13,36.3 14,33.6 15,48.6 16,49.3 17,37.2 18,31.7 19,46.1 20,48.7 21,37.6 22,34.3 23,49.3 24,53.5 25,41.5 26,38.0 27,52.5 28,55.0 29,44.5 30,40.3 31,53.0 32,55.0 33,45.0 34,40.5 35,52.0 36,53.0 37,43.0 38,38.0 39,49.0 40,50.0 41,40.5 42,36.0 43,50.5 44,52.0 45,41.0 46,36.5 47,53.5 48,55.5 49,42.5 50,37.5 51,54.5 52,57.0 53,45.5 54,40.0 55,55.0 56,57.5 57,46.0 58,41.0 59,57.5 60,59.0 61,47.0 62,42.0 63,55.0 64,57.0 65,45.5"/>
<polyline stroke="#74c476" marker-start="url(#k29)" marker-mid="url(#k29)" marker-end="url(#k29)" points="1,21.0 2,19.9 3,36.6 4,38.3 5,28.0 6,26.8 7,42.0 8,45.1 9,33.1 10,29.8 11,44.6 12,47.6 13,37.0 14,34.2 15,48.9 16,49.6 17,37.5 18,32.0 19,46.6 20,49.2 21,37.8 22,34.5 23,49.6 24,53.6 25,42.0 26,38.3 27,53.0 28,55.5 29,45.2 30,41.0 31,54.2 32,55.8 33,45.5 34,40.5 35,51.5 36,52.5 37,44.0 38,38.5 39,50.0 40,52.5 41,43.5 42,38.5 43,54.8 44,58.3 45,46.0 46,39.5 47,57.5 48,60.2 49,51.5 50,42.0 51,56.5 52,58.0 53,46.0 54,40.5 55,56.0 56,57.8 57,49.5 58,41.5 59,57.0 60,59.5 61,45.5 62,41.0 63,57.5 64,58.4 65,46.5"/>
<polyline stroke="#a1d99b" marker-start="url(#k30)" marker-mid="url(#k30)" marker-end="url(#k30)" points="1,20.5 2,19.5 3,36.1 4,38.7 5,28.4 6,27.1 7,41.9 8,44.6 9,32.5 10,29.7 11,44.2 12,48.0 13,36.5 14,33.5 15,48.5 16,49.0 17,36.5 18,31.0 19,45.8 20,48.2 21,36.8 22,33.0 23,48.2 24,51.6 25,40.0 26,36.5 27,50.8 28,53.2 29,43.0 30,39.0 31,51.0 32,52.5 33,42.5 34,38.0 35,48.0 36,48.5 37,41.0 38,36.0 39,43.5 40,42.0 41,38.5 42,33.5 43,43.5 44,45.0 45,37.5 46,33.5 47,44.5 48,46.0 49,38.0 50,33.0 51,45.0 52,47.0 53,38.0 54,33.0 55,47.5 56,48.0 57,36.0 58,31.0 59,35.5 60,35.5 61,33.0 62,30.0 63,40.5 64,41.5 65,29.4"/>
<polyline stroke="#000" style="stroke-width:5.5" marker-start="url(#kmean)" marker-mid="url(#kmean)" marker-end="url(#kmean)" points="1,20.8 2,19.7 3,36.4 4,38.6 5,28.3 6,27.0 7,41.8 8,44.8 9,32.8 10,30.0 11,44.4 12,47.9 13,36.7 14,33.9 15,48.5 16,49.1 17,37.1 18,31.9 19,46.0 20,48.6 21,37.2 22,33.9 23,48.6 24,52.2 25,40.9 26,37.5 27,51.6 28,54.2 29,43.6 30,39.7 31,52.1 32,53.7 33,43.9 34,39.4 35,49.8 36,50.2 37,41.4 38,36.9 39,46.8 40,47.8 41,39.0 42,35.4 43,48.0 44,50.5 45,39.8 46,36.2 47,49.5 48,52.0 49,40.8 50,36.9 51,50.4 52,52.0 53,40.3 54,36.0 55,48.6 56,50.9 57,40.7 58,36.9 59,48.4 60,50.0 61,40.0 62,35.9 63,47.8 64,50.2 65,40.0"/>
</g>
<polyline fill="none" stroke="#bfbfbf" stroke-width="4.2" stroke-linejoin="round" points="167.4,612.3 235.3,612.3 303.2,612.3 371.1,600.3 439.0,600.3 506.9,600.3 574.8,600.3 642.7,600.3 710.6,588.3 778.5,588.3 846.4,588.3 914.3,588.3 982.2,576.2 1050.1,576.2 1118.0,576.2 1185.9,576.2"/>
<polyline fill="none" stroke="#bfbfbf" stroke-width="4.2" stroke-linejoin="round" points="167.4,299.0 235.3,287.0 303.2,287.0 371.1,287.0 439.0,274.9 506.9,274.9 574.8,274.9 642.7,262.9 710.6,262.9 778.5,262.9 846.4,262.9 914.3,250.9 982.2,250.9 1050.1,238.9 1118.0,238.9 1185.9,238.9"/>
</g>

<rect x="62.7" y="59.3" width="1193.3" height="599" fill="none" stroke="#000" stroke-width="1.2"/>

<g stroke="#000" stroke-width="1.2">
<line x1="99.5" y1="658.3" x2="99.5" y2="663.6"/>
<line x1="167.4" y1="658.3" x2="167.4" y2="663.6"/>
<line x1="235.3" y1="658.3" x2="235.3" y2="663.6"/>
<line x1="303.2" y1="658.3" x2="303.2" y2="663.6"/>
<line x1="371.1" y1="658.3" x2="371.1" y2="663.6"/>
<line x1="439.0" y1="658.3" x2="439.0" y2="663.6"/>
<line x1="506.9" y1="658.3" x2="506.9" y2="663.6"/>
<line x1="574.8" y1="658.3" x2="574.8" y2="663.6"/>
<line x1="642.7" y1="658.3" x2="642.7" y2="663.6"/>
<line x1="710.6" y1="658.3" x2="710.6" y2="663.6"/>
<line x1="778.5" y1="658.3" x2="778.5" y2="663.6"/>
<line x1="846.4" y1="658.3" x2="846.4" y2="663.6"/>
<line x1="914.3" y1="658.3" x2="914.3" y2="663.6"/>
<line x1="982.2" y1="658.3" x2="982.2" y2="663.6"/>
<line x1="1050.1" y1="658.3" x2="1050.1" y2="663.6"/>
<line x1="1118.0" y1="658.3" x2="1118.0" y2="663.6"/>
<line x1="1185.9" y1="658.3" x2="1185.9" y2="663.6"/>
<line x1="1253.8" y1="658.3" x2="1253.8" y2="663.6"/>
<line x1="57.4" y1="142.7" x2="62.7" y2="142.7"/>
<line x1="57.4" y1="262.9" x2="62.7" y2="262.9"/>
<line x1="57.4" y1="383.1" x2="62.7" y2="383.1"/>
<line x1="57.4" y1="503.3" x2="62.7" y2="503.3"/>
<line x1="57.4" y1="623.5" x2="62.7" y2="623.5"/>
</g>

<g class="tk" text-anchor="middle">
<text x="99.5" y="680.5">00Z/22</text><text x="99.5" y="698.5">Sun</text>
<text x="167.4" y="680.5">00Z/23</text><text x="167.4" y="698.5">Mon</text>
<text x="235.3" y="680.5">00Z/24</text><text x="235.3" y="698.5">Tue</text>
<text x="303.2" y="680.5">00Z/25</text><text x="303.2" y="698.5">Wed</text>
<text x="371.1" y="680.5">00Z/26</text><text x="371.1" y="698.5">Thu</text>
<text x="439.0" y="680.5">00Z/27</text><text x="439.0" y="698.5">Fri</text>
<text x="506.9" y="680.5">00Z/28</text><text x="506.9" y="698.5">Sat</text>
<text x="574.8" y="680.5">00Z/01</text><text x="574.8" y="698.5">Sun</text>
<text x="642.7" y="680.5">00Z/02</text><text x="642.7" y="698.5">Mon</text>
<text x="710.6" y="680.5">00Z/03</text><text x="710.6" y="698.5">Tue</text>
<text x="778.5" y="680.5">00Z/04</text><text x="778.5" y="698.5">Wed</text>
<text x="846.4" y="680.5">00Z/05</text><text x="846.4" y="698.5">Thu</text>
<text x="914.3" y="680.5">00Z/06</text><text x="914.3" y="698.5">Fri</text>
<text x="982.2" y="680.5">00Z/07</text><text x="982.2" y="698.5">Sat</text>
<text x="1050.1" y="680.5">00Z/08</text><text x="1050.1" y="698.5">Sun</text>
<text x="1118.0" y="680.5">00Z/09</text><text x="1118.0" y="698.5">Mon</text>
<text x="1185.9" y="680.5">00Z/10</text><text x="1185.9" y="698.5">Tue</text>
<text x="1253.8" y="680.5">00Z/11</text><text x="1253.8" y="698.5">Wed</text>
</g>

<g class="tk" text-anchor="end">
<text x="51.5" y="148.1">60</text>
<text x="51.5" y="268.3">50</text>
<text x="51.5" y="388.5">40</text>
<text x="51.5" y="508.7">30</text>
<text x="51.5" y="628.9">20</text>
</g>

<text x="659.3" y="719.5" text-anchor="middle" font-size="15">time (UTC)/date</text>
<text transform="translate(23.5,358.8) rotate(-90)" text-anchor="middle" font-size="15">temperature (Fahrenheit)</text>

<text x="1226" y="639.3" text-anchor="end" font-size="12.1">Data source: NOAA</text>
<text x="1226" y="654" text-anchor="end" font-size="12.1">plot by Russ Schumacher/CSU</text>

<g class="lg">
<rect x="67" y="65" width="70" height="526.5" rx="3" ry="3" fill="#fff" fill-opacity="0.8" stroke="#d0d0d0" stroke-width="1"/>
<text x="102.2" y="78.3" text-anchor="middle" style="font-size:11.1px">member</text>
<g transform="translate(0,90.7)"><line x1="70.3" x2="95.3" stroke="#393b79"/><circle cx="82.8" r="3.2" fill="#393b79"/><text x="102.7" y="3.7">c00</text></g>
<g transform="translate(0,106.0)"><line x1="70.3" x2="95.3" stroke="#5254a3"/><circle cx="82.8" r="3.2" fill="#5254a3"/><text x="102.7" y="3.7">p01</text></g>
<g transform="translate(0,121.4)"><line x1="70.3" x2="95.3" stroke="#6b6ecf"/><circle cx="82.8" r="3.2" fill="#6b6ecf"/><text x="102.7" y="3.7">p02</text></g>
<g transform="translate(0,136.7)"><line x1="70.3" x2="95.3" stroke="#9c9ede"/><circle cx="82.8" r="3.2" fill="#9c9ede"/><text x="102.7" y="3.7">p03</text></g>
<g transform="translate(0,152.0)"><line x1="70.3" x2="95.3" stroke="#637939"/><circle cx="82.8" r="3.2" fill="#637939"/><text x="102.7" y="3.7">p04</text></g>
<g transform="translate(0,167.4)"><line x1="70.3" x2="95.3" stroke="#8ca252"/><circle cx="82.8" r="3.2" fill="#8ca252"/><text x="102.7" y="3.7">p05</text></g>
<g transform="translate(0,182.7)"><line x1="70.3" x2="95.3" stroke="#b5cf6b"/><circle cx="82.8" r="3.2" fill="#b5cf6b"/><text x="102.7" y="3.7">p06</text></g>
<g transform="translate(0,198.0)"><line x1="70.3" x2="95.3" stroke="#cedb9c"/><circle cx="82.8" r="3.2" fill="#cedb9c"/><text x="102.7" y="3.7">p07</text></g>
<g transform="translate(0,213.3)"><line x1="70.3" x2="95.3" stroke="#8c6d31"/><circle cx="82.8" r="3.2" fill="#8c6d31"/><text x="102.7" y="3.7">p08</text></g>
<g transform="translate(0,228.7)"><line x1="70.3" x2="95.3" stroke="#bd9e39"/><circle cx="82.8" r="3.2" fill="#bd9e39"/><text x="102.7" y="3.7">p09</text></g>
<g transform="translate(0,244.0)"><line x1="70.3" x2="95.3" stroke="#e7ba52"/><circle cx="82.8" r="3.2" fill="#e7ba52"/><text x="102.7" y="3.7">p10</text></g>
<g transform="translate(0,259.3)"><line x1="70.3" x2="95.3" stroke="#e7cb94"/><circle cx="82.8" r="3.2" fill="#e7cb94"/><text x="102.7" y="3.7">p11</text></g>
<g transform="translate(0,274.7)"><line x1="70.3" x2="95.3" stroke="#843c39"/><circle cx="82.8" r="3.2" fill="#843c39"/><text x="102.7" y="3.7">p12</text></g>
<g transform="translate(0,290.0)"><line x1="70.3" x2="95.3" stroke="#ad494a"/><circle cx="82.8" r="3.2" fill="#ad494a"/><text x="102.7" y="3.7">p13</text></g>
<g transform="translate(0,305.3)"><line x1="70.3" x2="95.3" stroke="#d6616b"/><circle cx="82.8" r="3.2" fill="#d6616b"/><text x="102.7" y="3.7">p14</text></g>
<g transform="translate(0,320.7)"><line x1="70.3" x2="95.3" stroke="#e7969c"/><circle cx="82.8" r="3.2" fill="#e7969c"/><text x="102.7" y="3.7">p15</text></g>
<g transform="translate(0,336.0)"><line x1="70.3" x2="95.3" stroke="#7b4173"/><circle cx="82.8" r="3.2" fill="#7b4173"/><text x="102.7" y="3.7">p16</text></g>
<g transform="translate(0,351.3)"><line x1="70.3" x2="95.3" stroke="#a55194"/><circle cx="82.8" r="3.2" fill="#a55194"/><text x="102.7" y="3.7">p17</text></g>
<g transform="translate(0,366.6)"><line x1="70.3" x2="95.3" stroke="#ce6dbd"/><circle cx="82.8" r="3.2" fill="#ce6dbd"/><text x="102.7" y="3.7">p18</text></g>
<g transform="translate(0,382.0)"><line x1="70.3" x2="95.3" stroke="#de9ed6"/><circle cx="82.8" r="3.2" fill="#de9ed6"/><text x="102.7" y="3.7">p19</text></g>
<g transform="translate(0,397.3)"><line x1="70.3" x2="95.3" stroke="#3182bd"/><circle cx="82.8" r="3.2" fill="#3182bd"/><text x="102.7" y="3.7">p20</text></g>
<g transform="translate(0,412.6)"><line x1="70.3" x2="95.3" stroke="#6baed6"/><circle cx="82.8" r="3.2" fill="#6baed6"/><text x="102.7" y="3.7">p21</text></g>
<g transform="translate(0,428.0)"><line x1="70.3" x2="95.3" stroke="#9ecae1"/><circle cx="82.8" r="3.2" fill="#9ecae1"/><text x="102.7" y="3.7">p22</text></g>
<g transform="translate(0,443.3)"><line x1="70.3" x2="95.3" stroke="#c6dbef"/><circle cx="82.8" r="3.2" fill="#c6dbef"/><text x="102.7" y="3.7">p23</text></g>
<g transform="translate(0,458.6)"><line x1="70.3" x2="95.3" stroke="#e6550d"/><circle cx="82.8" r="3.2" fill="#e6550d"/><text x="102.7" y="3.7">p24</text></g>
<g transform="translate(0,474.0)"><line x1="70.3" x2="95.3" stroke="#fd8d3c"/><circle cx="82.8" r="3.2" fill="#fd8d3c"/><text x="102.7" y="3.7">p25</text></g>
<g transform="translate(0,489.3)"><line x1="70.3" x2="95.3" stroke="#fdae6b"/><circle cx="82.8" r="3.2" fill="#fdae6b"/><text x="102.7" y="3.7">p26</text></g>
<g transform="translate(0,504.6)"><line x1="70.3" x2="95.3" stroke="#fdd0a2"/><circle cx="82.8" r="3.2" fill="#fdd0a2"/><text x="102.7" y="3.7">p27</text></g>
<g transform="translate(0,519.9)"><line x1="70.3" x2="95.3" stroke="#31a354"/><circle cx="82.8" r="3.2" fill="#31a354"/><text x="102.7" y="3.7">p28</text></g>
<g transform="translate(0,535.3)"><line x1="70.3" x2="95.3" stroke="#74c476"/><circle cx="82.8" r="3.2" fill="#74c476"/><text x="102.7" y="3.7">p29</text></g>
<g transform="translate(0,550.6)"><line x1="70.3" x2="95.3" stroke="#a1d99b"/><circle cx="82.8" r="3.2" fill="#a1d99b"/><text x="102.7" y="3.7">p30</text></g>
<g transform="translate(0,565.9)"><line x1="70.3" x2="95.3" stroke="#000" style="stroke-width:5.5"/><circle cx="82.8" r="5.2" fill="#000"/><text x="102.7" y="3.7">mean</text></g>
<g transform="translate(0,581.3)"><line x1="70.3" x2="95.3" stroke="#bfbfbf" style="stroke-width:4.2"/><text x="102.7" y="3.7">climo</text></g>
</g>
</svg>
</body>
</html>
